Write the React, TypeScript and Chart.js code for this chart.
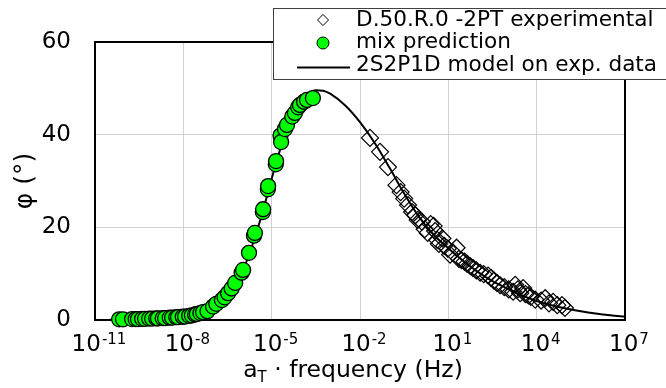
import React, { useEffect, useRef } from 'react';
import { Chart, registerables } from 'chart.js';

Chart.register(...registerables);

// ---- Data (log10 of reduced frequency, phase angle in degrees) ----
const seriesLabels = ['D.50.R.0 -2PT experimental', 'mix prediction', '2S2P1D model on exp. data'];
const xTickExponents = [-11, -8, -5, -2, 1, 4, 7];
const yTickValues = [0, 20, 40, 60];
const xTitleMain = 'a';
const xTitleSub = 'T';
const xTitleRest = ' \u00b7 frequency (Hz)';
const yTitle = '\u03c6 (\u00b0)';

const expLogF = [-1.66, -1.32, -1.05, -0.76, -0.62, -0.5, -0.37, -0.23, -0.12, -0.04, 0.1, 0.2, 0.3, 0.4, 0.5, 0.55, 0.62, 0.68, 0.8, 0.86, 0.98, 1.06, 1.15, 1.28, 1.36, 1.45, 1.55, 1.64, 1.75, 1.84, 1.95, 2.08, 2.2, 2.35, 2.45, 2.55, 2.65, 2.76, 2.9, 3.05, 3.2, 3.27, 3.36, 3.44, 3.54, 3.62, 3.72, 3.8, 3.95, 4.15, 4.29, 4.42, 4.56, 4.7, 4.86, 4.96];
const expPhi = [39.3, 36.3, 33.0, 29.1, 27.6, 26.2, 24.8, 23.3, 22.6, 21.6, 21.2, 19.6, 18.8, 20.7, 20.3, 19.2, 17.3, 16.4, 17.6, 16.0, 15.4, 14.1, 14.6, 15.6, 13.2, 12.9, 12.6, 12.1, 11.6, 11.2, 10.7, 10.2, 9.9, 9.6, 9.1, 8.5, 8.0, 7.5, 7.1, 6.6, 6.1, 7.6, 6.6, 5.8, 6.9, 5.6, 5.3, 5.0, 4.4, 4.2, 4.7, 3.6, 3.9, 3.2, 3.2, 2.6];

const mixLogF = [-10.18, -10.05, -9.74, -9.62, -9.54, -9.4, -9.3, -9.16, -9.06, -8.92, -8.86, -8.7, -8.62, -8.46, -8.38, -8.24, -8.18, -8.02, -7.94, -7.8, -7.71, -7.6, -7.54, -7.42, -7.33, -7.18, -6.99, -6.88, -6.69, -6.6, -6.48, -6.36, -6.24, -6.02, -5.97, -5.77, -5.6, -5.57, -5.3, -5.29, -5.13, -5.12, -4.86, -4.85, -4.7, -4.68, -4.55, -4.48, -4.3, -4.21, -4.1, -4.04, -3.9, -3.8, -3.6];
const mixPhi = [0.15, 0.15, 0.2, 0.2, 0.2, 0.25, 0.25, 0.3, 0.3, 0.35, 0.35, 0.4, 0.4, 0.5, 0.5, 0.6, 0.6, 0.7, 0.75, 0.9, 1.0, 1.2, 1.3, 1.5, 1.7, 1.9, 2.9, 3.5, 4.3, 4.9, 5.8, 6.8, 8.0, 10.2, 10.8, 14.5, 18.2, 18.8, 23.3, 23.9, 28.2, 28.9, 33.6, 34.3, 39.8, 38.4, 41.2, 42.1, 43.9, 44.7, 45.9, 46.4, 47.1, 47.5, 47.9];

const modelLogF = [-10.5, -10, -9, -8.5, -8, -7.5, -7, -6.75, -6.5, -6.25, -6, -5.75, -5.5, -5.25, -5, -4.75, -4.5, -4.25, -4, -3.75, -3.5, -3.25, -3, -2.5, -2, -1.5, -1, -0.5, 0, 0.5, 1, 1.5, 2, 2.5, 3, 3.5, 4, 4.5, 5, 5.5, 6, 6.5, 7];
const modelPhi = [0.05, 0.1, 0.25, 0.4, 0.6, 1.1, 2.3, 3.4, 5.0, 7.3, 10.4, 14.4, 19.2, 24.6, 30.5, 36.0, 41.0, 44.8, 47.4, 48.9, 49.6, 49.5, 48.8, 46.3, 42.7, 38.2, 32.9, 27.3, 22.3, 18.4, 15.5, 12.8, 10.4, 8.4, 6.8, 5.3, 4.1, 3.2, 2.5, 1.9, 1.4, 1.0, 0.7];

const toPoints = (lf: number[], ph: number[]) => lf.map((l, i) => ({ x: Math.pow(10, l), y: ph[i] }));

const FONT = '"DejaVu Sans", Verdana, sans-serif';
const GREEN = '#00ff00';

const framePlugin = {
  id: 'frame',
  beforeDatasetsDraw(chart: any) {
    const { ctx, chartArea } = chart;
    const { left, right, top, bottom } = chartArea;
    ctx.save();
    ctx.strokeStyle = '#000';
    ctx.lineWidth = 2;
    ctx.strokeRect(left, top, right - left, bottom - top);
    ctx.restore();
  },
};

const textPlugin = {
  id: 'texts',
  afterDraw(chart: any) {
    const { ctx, chartArea } = chart;
    const xs = chart.scales.x;
    ctx.save();
    ctx.fillStyle = '#000';
    ctx.textBaseline = 'alphabetic';
    ctx.textAlign = 'left';
    // x tick labels with superscript exponents
    xTickExponents.forEach((e) => {
      const px = xs.getPixelForValue(Math.pow(10, e));
      const base = '10';
      const exp = String(e);
      ctx.font = `23px ${FONT}`;
      const wb = ctx.measureText(base).width;
      ctx.font = `15px ${FONT}`;
      const we = ctx.measureText(exp).width;
      const x0 = px - (wb + we + 1) / 2 + 4;
      ctx.font = `23px ${FONT}`;
      ctx.fillText(base, x0, 351);
      ctx.font = `15px ${FONT}`;
      ctx.fillText(exp, x0 + wb + 1, 344);
    });
    // x title
    ctx.font = `23.5px ${FONT}`;
    const wa = ctx.measureText(xTitleMain).width;
    const wr = ctx.measureText(xTitleRest).width;
    ctx.font = `15px ${FONT}`;
    const wt = ctx.measureText(xTitleSub).width;
    const cx = (chartArea.left + chartArea.right) / 2 - 7;
    let tx = cx - (wa + wt + wr) / 2;
    ctx.font = `23.5px ${FONT}`;
    ctx.fillText(xTitleMain, tx, 377);
    tx += wa;
    ctx.font = `15px ${FONT}`;
    ctx.fillText(xTitleSub, tx, 382);
    tx += wt;
    ctx.font = `23.5px ${FONT}`;
    ctx.fillText(xTitleRest, tx, 377);
    // y title
    ctx.save();
    ctx.translate(25, (chartArea.top + chartArea.bottom) / 2);
    ctx.rotate(-Math.PI / 2);
    ctx.textAlign = 'center';
    ctx.textBaseline = 'middle';
    ctx.font = `25px ${FONT}`;
    ctx.fillText(yTitle, 0, 0);
    ctx.restore();

    // legend
    const ds = chart.data.datasets;
    ctx.fillStyle = '#fff';
    ctx.fillRect(273.5, 8.5, 400, 71);
    ctx.strokeStyle = '#404040';
    ctx.lineWidth = 1;
    ctx.strokeRect(273.5, 8.5, 400, 71);
    // diamond
    ctx.strokeStyle = '#000';
    ctx.lineWidth = 1;
    ctx.beginPath();
    ctx.moveTo(323, 14.5);
    ctx.lineTo(328.5, 20);
    ctx.lineTo(323, 25.5);
    ctx.lineTo(317.5, 20);
    ctx.closePath();
    ctx.stroke();
    // circle
    ctx.beginPath();
    ctx.arc(323, 43, 6, 0, Math.PI * 2);
    ctx.fillStyle = GREEN;
    ctx.fill();
    ctx.stroke();
    // line
    ctx.lineWidth = 2;
    ctx.beginPath();
    ctx.moveTo(297, 67.5);
    ctx.lineTo(350, 67.5);
    ctx.stroke();
    ctx.fillStyle = '#000';
    ctx.font = `21.6px ${FONT}`;
    ctx.textAlign = 'left';
    ctx.textBaseline = 'middle';
    ctx.fillText(ds[0].label, 356, 20);
    ctx.fillText(ds[1].label, 356, 42);
    ctx.fillText(ds[2].label, 356, 65);
    ctx.restore();
  },
};

export default function App() {
  const ref = useRef<HTMLCanvasElement | null>(null);
  useEffect(() => {
    if (!ref.current) return;
    const chart = new Chart(ref.current, {
      type: 'scatter',
      data: {
        datasets: [
          {
            label: seriesLabels[0],
            data: toPoints(expLogF, expPhi),
            pointStyle: 'rectRot',
            pointRadius: 8.5,
            pointBorderWidth: 1.2,
            borderColor: '#000',
            backgroundColor: 'rgba(0,0,0,0)',
            showLine: false,
            order: 3,
            clip: false,
          } as any,
          {
            label: seriesLabels[1],
            data: toPoints(mixLogF, mixPhi),
            pointStyle: 'circle',
            pointRadius: 7.5,
            pointBorderWidth: 1.3,
            borderColor: '#000',
            backgroundColor: GREEN,
            showLine: false,
            order: 1,
            clip: false,
          } as any,
          {
            label: seriesLabels[2],
            data: toPoints(modelLogF, modelPhi),
            showLine: true,
            pointRadius: 0,
            borderColor: '#000',
            borderWidth: 2,
            cubicInterpolationMode: 'monotone',
            order: 2,
            clip: false,
          } as any,
        ],
      },
      options: {
        animation: false,
        responsive: false,
        devicePixelRatio: 1,
        layout: { padding: { left: 0, top: 42, right: 41, bottom: 0 } },
        plugins: { legend: { display: false }, tooltip: { enabled: false } },
        scales: {
          x: {
            type: 'logarithmic',
            min: 1e-11,
            max: 1e7,
            afterBuildTicks: (s: any) => {
              s.ticks = xTickExponents.map((e) => ({ value: Math.pow(10, e) }));
            },
            afterFit: (s: any) => {
              s.height = 68;
            },
            ticks: { display: false },
            grid: { color: '#d0d0d0', lineWidth: 1, drawTicks: false },
            border: { display: false },
          },
          y: {
            min: 0,
            max: 60,
            afterBuildTicks: (s: any) => {
              s.ticks = yTickValues.map((v) => ({ value: v }));
            },
            afterFit: (s: any) => {
              s.width = 95;
            },
            ticks: { font: { family: 'DejaVu Sans', size: 23 }, color: '#000', padding: 24 },
            grid: { color: '#d0d0d0', lineWidth: 1, drawTicks: false },
            border: { display: false },
          },
        },
      } as any,
      plugins: [framePlugin, textPlugin],
    });
    return () => chart.destroy();
  }, []);
  return (
    <div style={{ position: 'absolute', left: 0, top: 0, width: 666, height: 388 }}>
      <canvas ref={ref} width={666} height={388} />
    </div>
  );
}
